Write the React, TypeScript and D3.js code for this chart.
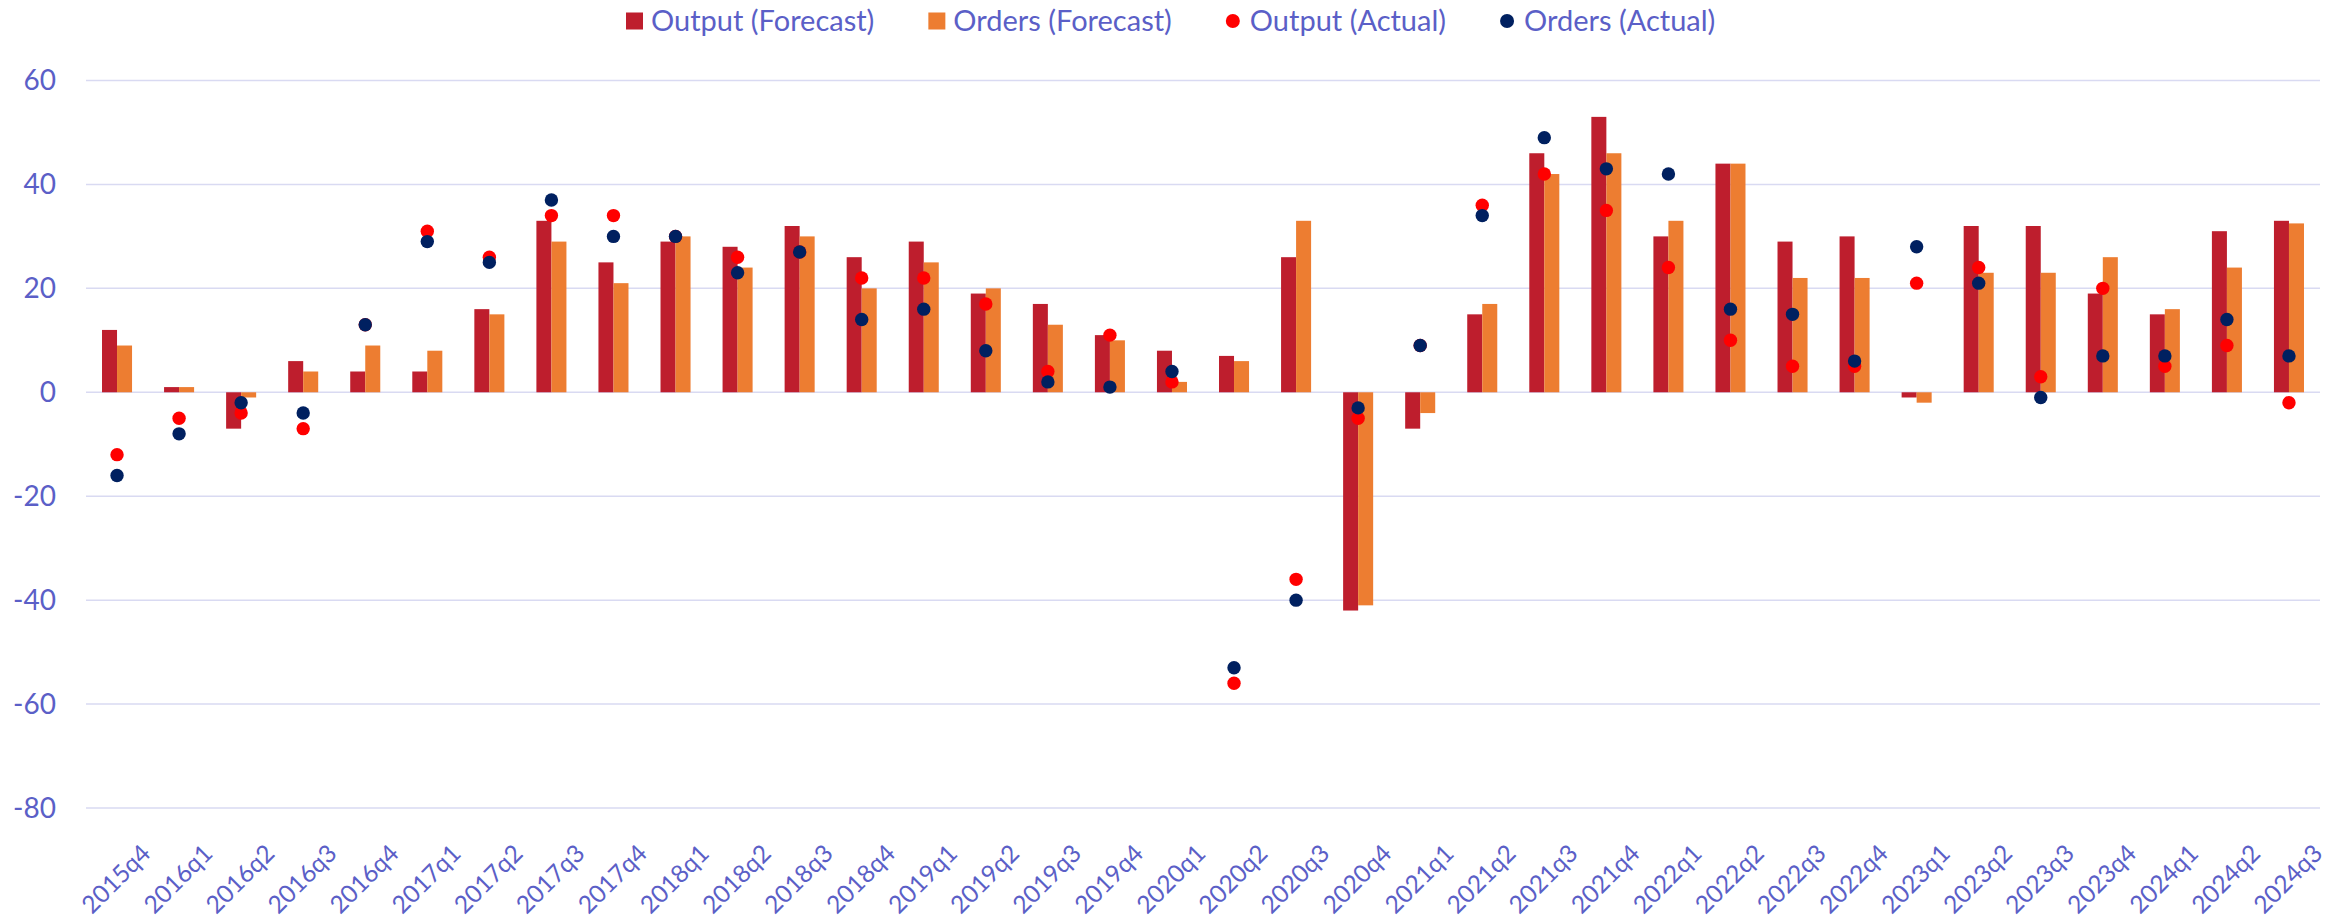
import React, { useEffect, useRef } from 'react';
import * as d3 from 'd3';

const categories = [
  '2015q4',
  '2016q1', '2016q2', '2016q3', '2016q4',
  '2017q1', '2017q2', '2017q3', '2017q4',
  '2018q1', '2018q2', '2018q3', '2018q4',
  '2019q1', '2019q2', '2019q3', '2019q4',
  '2020q1', '2020q2', '2020q3', '2020q4',
  '2021q1', '2021q2', '2021q3', '2021q4',
  '2022q1', '2022q2', '2022q3', '2022q4',
  '2023q1', '2023q2', '2023q3', '2023q4',
  '2024q1', '2024q2', '2024q3',
];

const outputForecast = [
  12, 1, -7, 6, 4, 4, 16, 33, 25, 29, 28, 32, 26, 29, 19, 17, 11, 8, 7, 26,
  -42, -7, 15, 46, 53, 30, 44, 29, 30, -1, 32, 32, 19, 15, 31, 33,
];

const ordersForecast = [
  9, 1, -1, 4, 9, 8, 15, 29, 21, 30, 24, 30, 20, 25, 20, 13, 10, 2, 6, 33,
  -41, -4, 17, 42, 46, 33, 44, 22, 22, -2, 23, 23, 26, 16, 24, 32.5,
];

const outputActual = [
  -12, -5, -4, -7, 13, 31, 26, 34, 34, 30, 26, 27, 22, 22, 17, 4, 11, 2, -56, -36,
  -5, 9, 36, 42, 35, 24, 10, 5, 5, 21, 24, 3, 20, 5, 9, -2,
];

const ordersActual = [
  -16, -8, -2, -4, 13, 29, 25, 37, 30, 30, 23, 27, 14, 16, 8, 2, 1, 4, -53, -40,
  -3, 9, 34, 49, 43, 42, 16, 15, 6, 28, 21, -1, 7, 7, 14, 7,
];

const seriesNames = ['Output (Forecast)', 'Orders (Forecast)', 'Output (Actual)', 'Orders (Actual)'];
const yTickValues = [-80, -60, -40, -20, 0, 20, 40, 60];

const W = 2328;
const H = 920;
const TEXT_COLOR = '#5B5FC7';
const GRID_COLOR = '#D9DAF2';
const COLORS = {
  outF: '#BE1E2D',
  ordF: '#ED7D31',
  outA: '#FF0000',
  ordA: '#002060',
};
const FONT = 'Lato, "Noto Sans", sans-serif';

export default function App() {
  const ref = useRef<SVGSVGElement>(null);

  useEffect(() => {
    const svg = d3.select(ref.current);
    svg.selectAll('*').remove();

    const left = 86;
    const right = 2320;
    const x = d3.scaleBand<string>().domain(categories).range([left, right]).paddingInner(0).paddingOuter(0);
    const y = d3.scaleLinear().domain([-80, 60]).range([808, 80.5]);
    const bw = x.bandwidth();
    const groupW = bw * 0.484;
    const xs = d3
      .scaleBand<string>()
      .domain(['outF', 'ordF'])
      .range([(bw - groupW) / 2, (bw + groupW) / 2]);

    // gridlines
    svg
      .append('g')
      .selectAll('line')
      .data(yTickValues)
      .join('line')
      .attr('x1', left)
      .attr('x2', right)
      .attr('y1', (d) => y(d))
      .attr('y2', (d) => y(d))
      .attr('stroke', GRID_COLOR)
      .attr('stroke-width', 1.5);

    // y labels
    svg
      .append('g')
      .selectAll('text')
      .data(yTickValues)
      .join('text')
      .attr('x', 56)
      .attr('y', (d) => y(d))
      .attr('dy', '0.35em')
      .attr('text-anchor', 'end')
      .attr('font-family', FONT)
      .attr('font-size', 28)
      .attr('fill', TEXT_COLOR)
      .text((d) => String(d));

    // x labels
    svg
      .append('g')
      .selectAll('text')
      .data(categories)
      .join('text')
      .attr('transform', (d) => `translate(${(x(d) as number) + bw / 2 + 35},855) rotate(-45)`)
      .attr('text-anchor', 'end')
      .attr('font-family', FONT)
      .attr('font-size', 24.5)
      .attr('fill', TEXT_COLOR)
      .text((d) => d);

    // bars
    const rows = categories.map((c, i) => ({ c, outF: outputForecast[i], ordF: ordersForecast[i] }));
    const barG = svg.append('g');
    (['outF', 'ordF'] as const).forEach((key) => {
      barG
        .append('g')
        .selectAll('rect')
        .data(rows)
        .join('rect')
        .attr('x', (d) => (x(d.c) as number) + (xs(key) as number))
        .attr('width', xs.bandwidth())
        .attr('y', (d) => y(Math.max(0, d[key])))
        .attr('height', (d) => Math.abs(y(d[key]) - y(0)))
        .attr('fill', COLORS[key]);
    });

    // dots
    const dotG = svg.append('g');
    const dotSeries: [number[], string][] = [
      [outputActual, COLORS.outA],
      [ordersActual, COLORS.ordA],
    ];
    dotSeries.forEach(([vals, color]) => {
      dotG
        .append('g')
        .selectAll('circle')
        .data(categories)
        .join('circle')
        .attr('cx', (d) => (x(d) as number) + bw / 2)
        .attr('cy', (_d, i) => y(vals[i]))
        .attr('r', 6.7)
        .attr('fill', color);
    });

    // legend
    const legendColors = [COLORS.outF, COLORS.ordF, COLORS.outA, COLORS.ordA];
    const legendShapes = ['rect', 'rect', 'circle', 'circle'];
    const lg = svg.append('g');
    let cx = 626;
    const ly = 21;
    seriesNames.forEach((name, i) => {
      if (legendShapes[i] === 'rect') {
        lg.append('rect').attr('x', cx).attr('y', ly - 8.5).attr('width', 17).attr('height', 17).attr('fill', legendColors[i]);
        cx += 17 + 8;
      } else {
        lg.append('circle').attr('cx', cx + 7).attr('cy', ly).attr('r', 7).attr('fill', legendColors[i]);
        cx += 14 + 10;
      }
      const t = lg
        .append('text')
        .attr('x', cx)
        .attr('y', ly)
        .attr('dy', '0.35em')
        .attr('font-family', FONT)
        .attr('font-size', 29)
        .attr('fill', TEXT_COLOR)
        .text(name);
      const w = (t.node() as SVGTextElement).getComputedTextLength();
      cx += w + 54;
    });
  }, []);

  return (
    <svg
      ref={ref}
      width={W}
      height={H}
      style={{ position: 'absolute', left: 0, top: 0, background: '#ffffff' }}
    />
  );
}
